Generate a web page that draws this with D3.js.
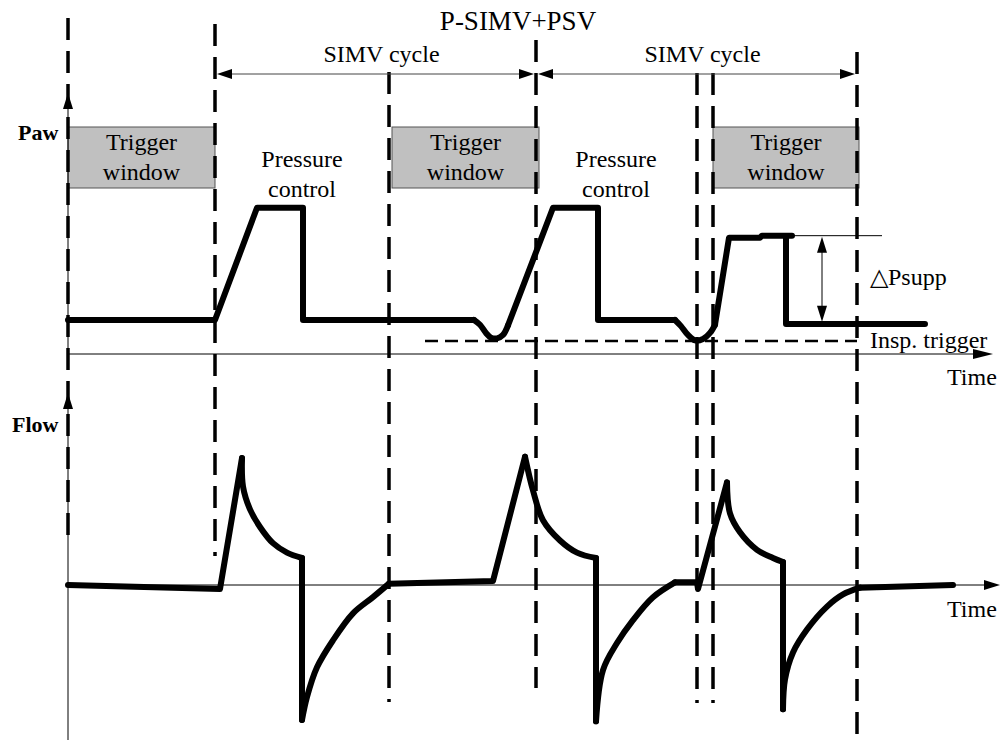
<!DOCTYPE html>
<html>
<head>
<meta charset="utf-8">
<script src="https://cdn.jsdelivr.net/npm/d3@7"></script>
<style>
  html, body { margin: 0; padding: 0; background: #fff; }
  svg { display: block; }
  text { font-family: "Liberation Serif", "Times New Roman", serif; fill: #000; }
</style>
</head>
<body>
<svg id="chart" width="1000" height="740"></svg>
<script>
// ---------------- DATA ----------------
const title = "P-SIMV+PSV";
const cycleLabel = "SIMV cycle";
const windowLabel = ["Trigger", "window"];
const controlLabel = ["Pressure", "control"];
const pawLabel = "Paw";
const flowLabel = "Flow";
const timeLabel = "Time";
const triggerLabel = "Insp. trigger";
const psuppLabel = "\u25B3Psupp";

// time markers (dashed verticals), in time units
const markerTimes = [0, 14.7, 32.1, 46.8, 62.9, 64.5, 78.9];
// trigger windows [start, end]
const triggerWindows = [[0, 14.7], [32.4, 47.1], [64.5, 79.1]];
// SIMV cycles [start, end]
const simvCycles = [[14.7, 46.8], [46.8, 78.9]];
// pressure-control label times
const controlTimes = [23.4, 54.8];
// inspiratory trigger level and span
const inspTriggerLevel = 1.9;
const inspTriggerSpan = [35.7, 78.9];
// pressure support reference
const psuppLevel = 17.4;
const psuppBase = 4.6;
const psuppSpan = [72.4, 81.4];
const psuppArrowTime = 75.4;

// Paw waveform [time, pressure, smoothWithPrevious]
const pawPoints = [
  [0, 5], [14.7, 5], [18.9, 21.5], [23.5, 21.5], [23.5, 5], [40.6, 5],
  [41.2, 4.3, 1], [41.8, 3.1, 1], [42.3, 2.4, 1], [42.9, 2.3, 1], [43.5, 2.8, 1], [44.0, 4.2, 1],
  [48.5, 21.5], [53.0, 21.5], [53.0, 5], [60.7, 5],
  [61.3, 4.1, 1], [62.0, 2.8, 1], [62.7, 2.0, 1], [63.5, 2.2, 1], [64.2, 3.1, 1], [64.7, 4.3, 1],
  [66.1, 17.1], [69.2, 17.1], [69.4, 17.4], [72.4, 17.4], [71.8, 17.4], [71.8, 4.4], [85.7, 4.4]
];

// Flow waveform [time, flow, smoothWithPrevious]
const flowPoints = [
  [0, 0], [15.2, -0.03], [17.4, 0.94],
  [17.5, 0.73, 1], [18.2, 0.56, 1], [19.2, 0.43, 1], [20.5, 0.31, 1], [21.9, 0.24, 1], [23.4, 0.20, 1],
  [23.4, -1.0],
  [23.9, -0.83, 1], [24.9, -0.61, 1], [26.5, -0.41, 1], [28.5, -0.21, 1], [30.5, -0.09, 1], [32.1, 0.01, 1],
  [42.5, 0.03], [45.7, 0.95],
  [46.5, 0.70, 1], [47.5, 0.48, 1], [49.2, 0.33, 1], [50.9, 0.24, 1], [52.8, 0.20, 1],
  [52.8, -1.01],
  [53.5, -0.63, 1], [54.9, -0.43, 1], [56.5, -0.26, 1], [58.5, -0.09, 1], [60.7, 0.02, 1],
  [62.9, 0.02], [63.0, -0.03], [65.9, 0.76],
  [66.2, 0.53, 1], [67.2, 0.39, 1], [68.9, 0.26, 1], [70.5, 0.20, 1], [71.5, 0.17, 1],
  [71.5, -0.92],
  [71.7, -0.70, 1], [72.5, -0.50, 1], [73.9, -0.33, 1], [75.9, -0.16, 1], [77.5, -0.07, 1], [79.2, -0.02, 1],
  [88.5, 0.0]
];

// ---------------- LAYOUT ----------------
const svg = d3.select("#chart");
const x = d3.scaleLinear().domain([0, 93.2]).range([68, 1000]);
const py = d3.scaleLinear().domain([0, 30]).range([354, 150]);
const fy = d3.scaleLinear().domain([-1, 1]).range([720, 450]);

const FS = 24;

function tri(g, tipX, tipY, dir, len, half) {
  let pts;
  if (dir === "left") pts = [[tipX, tipY], [tipX + len, tipY - half], [tipX + len, tipY + half]];
  else if (dir === "right") pts = [[tipX, tipY], [tipX - len, tipY - half], [tipX - len, tipY + half]];
  else if (dir === "up") pts = [[tipX, tipY], [tipX - half, tipY + len], [tipX + half, tipY + len]];
  else pts = [[tipX, tipY], [tipX - half, tipY - len], [tipX + half, tipY - len]];
  g.append("path").attr("d", "M" + pts.map(p => p.join(",")).join("L") + "Z").attr("fill", "#000");
}

// trigger windows (boxes)
const boxes = svg.append("g");
triggerWindows.forEach(w => {
  const x0 = x(w[0]), x1 = x(w[1]);
  boxes.append("rect").attr("x", x0).attr("y", 127).attr("width", x1 - x0).attr("height", 61)
    .attr("fill", "#c0c0c0").attr("stroke", "#555").attr("stroke-width", 1);
  const cx = (x0 + x1) / 2;
  boxes.append("text").attr("x", cx).attr("y", 150).attr("text-anchor", "middle").attr("font-size", FS).text(windowLabel[0]);
  boxes.append("text").attr("x", cx).attr("y", 180).attr("text-anchor", "middle").attr("font-size", FS).text(windowLabel[1]);
});

// axes
const axes = svg.append("g").attr("stroke", "#000").attr("stroke-width", 1);
axes.append("line").attr("x1", x(0)).attr("x2", x(0)).attr("y1", py(0)).attr("y2", 100);
tri(svg, x(0), 93, "up", 16, 5);
axes.append("line").attr("x1", x(0)).attr("x2", 980).attr("y1", py(0)).attr("y2", py(0));
tri(svg, 993, py(0), "right", 20, 5);
axes.append("line").attr("x1", x(0)).attr("x2", x(0)).attr("y1", 740).attr("y2", 400);
tri(svg, x(0), 393, "up", 16, 5);
axes.append("line").attr("x1", x(0)).attr("x2", 988).attr("y1", fy(0)).attr("y2", fy(0));
tri(svg, 1000, fy(0), "right", 16, 5);

// dashed vertical markers: [top, bottom] extents per marker
const markerExtent = [[18, 538], [24, 556], [72, 702], [40, 688], [73, 703], [73, 703], [52, 740]];
const dash = svg.append("g").attr("stroke", "#000").attr("stroke-width", 3.5).attr("stroke-dasharray", "22,11");
markerTimes.forEach((t, i) => {
  dash.append("line").attr("x1", x(t)).attr("x2", x(t)).attr("y1", markerExtent[i][0]).attr("y2", markerExtent[i][1]);
});

// insp trigger dashed level
svg.append("line").attr("x1", x(inspTriggerSpan[0])).attr("x2", x(inspTriggerSpan[1]))
  .attr("y1", py(inspTriggerLevel)).attr("y2", py(inspTriggerLevel))
  .attr("stroke", "#000").attr("stroke-width", 2.5).attr("stroke-dasharray", "13,7");

// SIMV cycle arrows
simvCycles.forEach(c => {
  const x0 = x(c[0]) + 2, x1 = x(c[1]) - 2;
  svg.append("line").attr("x1", x0 + 10).attr("x2", x1 - 10).attr("y1", 74).attr("y2", 74)
    .attr("stroke", "#444").attr("stroke-width", 1);
  tri(svg, x0, 74, "left", 15, 5);
  tri(svg, x1, 74, "right", 15, 5);
  svg.append("text").attr("x", (x(c[0]) + x(c[1])) / 2 + 6).attr("y", 62).attr("text-anchor", "middle")
    .attr("font-size", FS).text(cycleLabel);
});

// Psupp reference
svg.append("line").attr("x1", x(psuppSpan[0])).attr("x2", x(psuppSpan[1]))
  .attr("y1", py(psuppLevel)).attr("y2", py(psuppLevel)).attr("stroke", "#000").attr("stroke-width", 1);
svg.append("line").attr("x1", x(psuppArrowTime)).attr("x2", x(psuppArrowTime))
  .attr("y1", py(psuppLevel) + 12).attr("y2", py(psuppBase) - 12).attr("stroke", "#000").attr("stroke-width", 1);
tri(svg, x(psuppArrowTime), py(psuppLevel) + 1, "up", 16, 5);
tri(svg, x(psuppArrowTime), py(psuppBase) - 1, "down", 16, 5);
svg.append("text").attr("x", 870).attr("y", 285).attr("font-size", FS).text(psuppLabel);

// waveforms
function runs(points) {
  const out = [];
  let cur = { smooth: false, pts: [points[0]] };
  for (let i = 1; i < points.length; i++) {
    const s = points[i][2] === 1;
    if (s !== cur.smooth) {
      const last = cur.pts[cur.pts.length - 1];
      out.push(cur);
      cur = { smooth: s, pts: [last] };
    }
    cur.pts.push(points[i]);
  }
  out.push(cur);
  return out;
}
function drawWave(points, yScale) {
  const g = svg.append("g");
  runs(points).forEach(r => {
    const line = d3.line().x(d => x(d[0])).y(d => yScale(d[1]))
      .curve(r.smooth ? d3.curveCatmullRom.alpha(0.5) : d3.curveLinear);
    g.append("path").attr("d", line(r.pts)).attr("fill", "none").attr("stroke", "#000")
      .attr("stroke-width", 6).attr("stroke-linecap", "round").attr("stroke-linejoin", "round");
  });
}
drawWave(pawPoints, py);
drawWave(flowPoints, fy);

// texts
svg.append("text").attr("x", 518).attr("y", 30).attr("text-anchor", "middle").attr("font-size", 27).text(title);
controlTimes.forEach(t => {
  svg.append("text").attr("x", x(t)).attr("y", 167).attr("text-anchor", "middle").attr("font-size", FS).text(controlLabel[0]);
  svg.append("text").attr("x", x(t)).attr("y", 197).attr("text-anchor", "middle").attr("font-size", FS).text(controlLabel[1]);
});
svg.append("text").attr("x", 18).attr("y", 140).attr("font-size", 22).attr("font-weight", "bold").text(pawLabel);
svg.append("text").attr("x", 12).attr("y", 432).attr("font-size", 22).attr("font-weight", "bold").text(flowLabel);
svg.append("text").attr("x", 947).attr("y", 385).attr("font-size", FS).text(timeLabel);
svg.append("text").attr("x", 947).attr("y", 617).attr("font-size", FS).text(timeLabel);
svg.append("text").attr("x", 870).attr("y", 348).attr("font-size", FS).text(triggerLabel);
</script>
</body>
</html>
